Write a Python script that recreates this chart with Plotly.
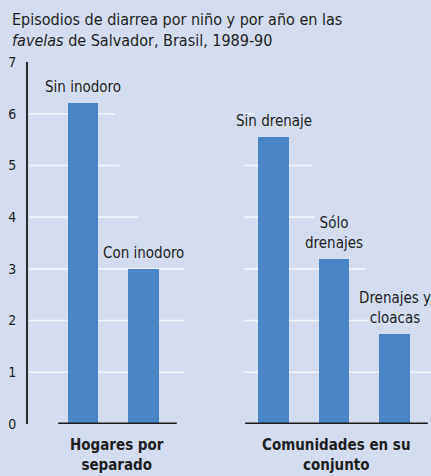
import plotly.graph_objects as go

# Diarrhoea episodes per child per year, Salvador favelas 1989-90
bar_labels = ["Sin inodoro", "Con inodoro", "Sin drenaje", "Sólo<br>drenajes", "Drenajes y<br>cloacas"]
bar_values = [6.2, 3.0, 5.55, 3.2, 1.75]
bar_x = [0.0, 1.0, 3.15, 4.15, 5.15]

group_labels = ["<b>Hogares por<br>separado</b>", "<b>Comunidades en su<br>conjunto</b>"]
group_spans = [(-0.41, 1.55), (2.68, 5.70)]

y_ticks = [0, 1, 2, 3, 4, 5, 6, 7]

# Gridline segments per level: (level, start, end) in axis units
grid_segments = [
    (1, -0.89, 1.67), (2, -0.89, 1.67), (3, -0.89, 1.67),
    (4, -0.89, 0.91), (5, -0.89, 0.60), (6, -0.89, 0.53),
    (1, 2.66, 5.76), (2, 2.66, 4.71), (3, 2.66, 4.66),
    (4, 2.66, 3.83), (5, 2.66, 3.80), (6, 2.66, 2.83),
]

BG = "#D4DDEF"
BAR = "#4A85C5"
INK = "#1E1E1E"
FONT = "Liberation Sans Narrow, DejaVu Sans Condensed, Arial Narrow, sans-serif"

W, H = 431, 476
M_T, M_B = 62, 52
PLOT_H = H - M_T - M_B

fig = go.Figure()
fig.add_trace(go.Bar(
    x=bar_x, y=bar_values, width=0.5,
    marker=dict(color=BAR, line=dict(width=0)),
    hoverinfo="skip",
))

shapes = []
for lvl, x0, x1 in grid_segments:
    shapes.append(dict(type="line", xref="x", yref="y", x0=x0, x1=x1, y0=lvl, y1=lvl,
                       line=dict(color="#F4F6FB", width=1.6), layer="below"))
for x0, x1 in group_spans:
    shapes.append(dict(type="line", xref="x", yref="y", x0=x0, x1=x1, y0=0, y1=0,
                       line=dict(color="#1A1A1A", width=3), layer="above"))

annotations = []
for x, v, t in zip(bar_x, bar_values, bar_labels):
    annotations.append(dict(x=x, y=v, xref="x", yref="y", text=t, showarrow=False,
                            yanchor="bottom", yshift=5,
                            font=dict(family=FONT, size=15, color=INK)))
for (x0, x1), t in zip(group_spans, group_labels):
    annotations.append(dict(x=(x0 + x1) / 2, y=0, xref="x", yref="y", text=t, showarrow=False,
                            yanchor="top", yshift=-10,
                            font=dict(family=FONT, size=15, color=INK)))

# Two-line heading in the top margin
annotations.append(dict(
    text="Episodios de diarrea por niño y por año en las<br><i>favelas</i> de Salvador, Brasil, 1989-90",
    xref="paper", yref="paper", x=10 / W, y=1 + (M_T - 8) / PLOT_H,
    xanchor="left", yanchor="top", align="left", showarrow=False,
    font=dict(family=FONT, size=16, color=INK),
))

fig.update_layout(
    width=W, height=H,
    margin=dict(l=0, r=0, t=M_T, b=M_B),
    paper_bgcolor=BG, plot_bgcolor=BG,
    showlegend=False,
    xaxis=dict(range=[-0.909, 5.752], domain=[28 / W, 1], visible=False, fixedrange=True),
    yaxis=dict(range=[0, 7], tickvals=y_ticks, showgrid=False, zeroline=False,
               showline=True, linecolor="#2A2A2A", linewidth=2,
               ticks="", ticklabelstandoff=7,
               tickfont=dict(family=FONT, size=14, color=INK), fixedrange=True),
    shapes=shapes, annotations=annotations,
    bargap=0,
)

fig.write_html("out.html")
